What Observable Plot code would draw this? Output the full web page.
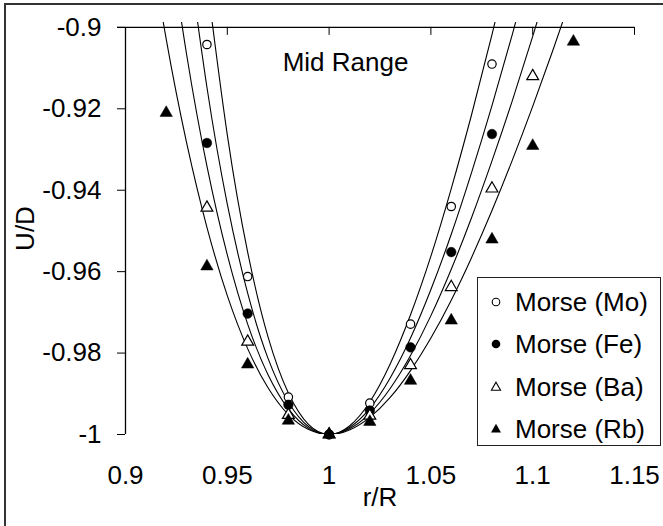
<!DOCTYPE html>
<html>
<head>
<meta charset="utf-8">
<script src="https://cdn.jsdelivr.net/npm/d3@7"></script>
<script src="https://cdn.jsdelivr.net/npm/@observablehq/plot@0.6"></script>
<style>
  html, body { margin: 0; padding: 0; background: #fff; overflow: hidden; }
  #wrap { position: relative; width: 663px; height: 526px; font-family: "Liberation Sans", Arial, sans-serif; }
  #frame { position: absolute; left: 4px; top: 3px; width: 700px; height: 600px; border-left: 2px solid #333; border-top: 2px solid #333; pointer-events: none; }
  #legend { position: absolute; left: 477px; top: 277px; width: 184px; height: 169px; border: 1px solid #222; background: #fff; box-sizing: border-box; }
  .row { position: absolute; left: 0; height: 30px; font-size: 26px; line-height: 30px; color: #000; white-space: nowrap; }
  .row svg { position: absolute; left: 8px; top: 5px; }
  .row span { position: absolute; left: 37px; top: 0; }
</style>
</head>
<body>
<div id="wrap">
  <div id="chart"></div>
  <div id="legend"></div>
  <div id="frame"></div>
</div>
<script>
// ---- axis ticks ----
const xTicks = [0.9, 0.95, 1, 1.05, 1.1, 1.15];
const xTickLabels = ["0.9", "0.95", "1", "1.05", "1.1", "1.15"];
const yTicks = [-1, -0.98, -0.96, -0.94, -0.92, -0.9];
const yTickLabels = ["-1", "-0.98", "-0.96", "-0.94", "-0.92", "-0.9"];

// ---- series names ----
const seriesNames = ["Morse (Mo)", "Morse (Fe)", "Morse (Ba)", "Morse (Rb)"];

// ---- data points (markers) ----
const moX = [0.94, 0.96, 0.98, 1.00, 1.02, 1.04, 1.06, 1.08];
const moY = [-0.9042, -0.9612, -0.9908, -1.0, -0.9923, -0.9729, -0.9440, -0.9090];
const feX = [0.94, 0.96, 0.98, 1.00, 1.02, 1.04, 1.06, 1.08];
const feY = [-0.9284, -0.9703, -0.9927, -1.0, -0.9941, -0.9786, -0.9552, -0.9262];
const baX = [0.94, 0.96, 0.98, 1.00, 1.02, 1.04, 1.06, 1.08, 1.10];
const baY = [-0.9443, -0.9772, -0.9952, -1.0, -0.9954, -0.9830, -0.9638, -0.9396, -0.9120];
const rbX = [0.92, 0.94, 0.96, 0.98, 1.00, 1.02, 1.04, 1.06, 1.08, 1.10, 1.12];
const rbY = [-0.9210, -0.9587, -0.9828, -0.9966, -1.0, -0.9969, -0.9868, -0.9720, -0.9521, -0.9291, -0.9035];

// ---- fitted curves ----
const fitMoX = [0.94, 0.95, 0.96, 0.97, 0.98, 0.99, 1.00, 1.01, 1.02, 1.03, 1.04, 1.05, 1.06, 1.07, 1.08, 1.09];
const fitMoY = [-0.8886, -0.9264, -0.9552, -0.9760, -0.9898, -0.9976, -1.0, -0.9979, -0.9920, -0.9827, -0.9706, -0.9562, -0.9396, -0.9214, -0.9018, -0.8810];
const fitFeX = [0.93, 0.94, 0.95, 0.96, 0.97, 0.98, 0.99, 1.00, 1.01, 1.02, 1.03, 1.04, 1.05, 1.06, 1.07, 1.08, 1.09, 1.10];
const fitFeY = [-0.8786, -0.9147, -0.9434, -0.9653, -0.9813, -0.9920, -0.9981, -1.0, -0.9983, -0.9936, -0.9861, -0.9763, -0.9644, -0.9508, -0.9356, -0.9192, -0.9017, -0.8833];
const fitBaX = [0.92, 0.93, 0.94, 0.95, 0.96, 0.97, 0.98, 0.99, 1.00, 1.01, 1.02, 1.03, 1.04, 1.05, 1.06, 1.07, 1.08, 1.09, 1.10, 1.11];
const fitBaY = [-0.8730, -0.9066, -0.9341, -0.9559, -0.9729, -0.9853, -0.9937, -0.9985, -1.0, -0.9986, -0.9948, -0.9887, -0.9806, -0.9708, -0.9594, -0.9467, -0.9328, -0.9180, -0.9022, -0.8858];
const fitRbX = [0.91, 0.92, 0.93, 0.94, 0.95, 0.96, 0.97, 0.98, 0.99, 1.00, 1.01, 1.02, 1.03, 1.04, 1.05, 1.06, 1.07, 1.08, 1.09, 1.10, 1.11, 1.12];
const fitRbY = [-0.8727, -0.9029, -0.9283, -0.9491, -0.9659, -0.9789, -0.9885, -0.9951, -0.9988, -1.0, -0.9989, -0.9958, -0.9909, -0.9843, -0.9763, -0.9670, -0.9565, -0.9450, -0.9326, -0.9194, -0.9055, -0.8910];

const annotation = "Mid Range";
const xLabel = "r/R";
const yLabel = "U/D";

// ---- build tables ----
const toRows = (xs, ys, s) => xs.map((x, i) => ({x, y: ys[i], s}));
const pts = [
  toRows(moX, moY, seriesNames[0]),
  toRows(feX, feY, seriesNames[1]),
  toRows(baX, baY, seriesNames[2]),
  toRows(rbX, rbY, seriesNames[3])
];
const fits = [
  toRows(fitMoX, fitMoY, seriesNames[0]),
  toRows(fitFeX, fitFeY, seriesNames[1]),
  toRows(fitBaX, fitBaY, seriesNames[2]),
  toRows(fitRbX, fitRbY, seriesNames[3])
];
const styles = [
  {symbol: "circle", fill: "white", stroke: "black", r: 4.2, strokeWidth: 1.2},
  {symbol: "circle", fill: "black", stroke: "black", r: 4.8, strokeWidth: 0.5},
  {symbol: "triangle", fill: "white", stroke: "black", r: 4.4, strokeWidth: 1.2},
  {symbol: "triangle", fill: "black", stroke: "black", r: 4.6, strokeWidth: 0.5}
];

const yTop = yTicks[yTicks.length - 1];
const fmtX = d => xTickLabels[xTicks.indexOf(d)];
const fmtY = d => yTickLabels[yTicks.indexOf(d)];

const chart = Plot.plot({
  width: 663,
  height: 526,
  marginLeft: 125,
  marginRight: 29,
  marginTop: 22,
  marginBottom: 92,
  style: {fontFamily: '"Liberation Sans", Arial, sans-serif', fontSize: "26px", background: "transparent", color: "black", overflow: "visible"},
  x: {domain: [xTicks[0], xTicks[xTicks.length - 1]]},
  y: {domain: [yTicks[0], -0.8988]},
  marks: [
    ...fits.map(f => Plot.line(f, {x: "x", y: "y", curve: "natural", stroke: "black", strokeWidth: 1.1, clip: true})),
    Plot.ruleX([xTicks[0]], {y1: yTicks[0], y2: yTop, stroke: "black", strokeWidth: 1.3}),
    Plot.ruleY([yTop], {x1: xTicks[0], x2: xTicks[xTicks.length - 1], insetLeft: -8, stroke: "black", strokeWidth: 1.3}),
    Plot.ruleX(xTicks.slice(1), {y1: yTop, y2: yTop, insetBottom: -8, stroke: "black", strokeWidth: 1}),
    Plot.axisY(yTicks, {anchor: "left", tickSize: 8, tickPadding: 16, tickFormat: fmtY, fontSize: 26, label: null}),
    Plot.axisX(xTicks, {anchor: "bottom", tickSize: 0, tickPadding: 31, tickFormat: fmtX, fontSize: 26, label: null}),
    ...pts.map((p, i) => Plot.dot(p, {x: "x", y: "y", ...styles[i]})),
    Plot.text([annotation], {frameAnchor: "top-left", dx: 220, dy: 30, textAnchor: "middle", fontSize: 26}),
    Plot.text([xLabel], {frameAnchor: "bottom", dy: 71, textAnchor: "middle", fontSize: 26}),
    Plot.text([yLabel], {frameAnchor: "left", dx: -100, rotate: -90, textAnchor: "middle", lineAnchor: "middle", fontSize: 26})
  ]
});
document.getElementById("chart").appendChild(chart);

// ---- legend ----
const legend = document.getElementById("legend");
const rowTops = [9, 51, 94, 136];
const sym = [
  '<circle cx="10" cy="10" r="3.8" fill="white" stroke="black" stroke-width="1.1"/>',
  '<circle cx="10" cy="10" r="4.3" fill="black"/>',
  '<path d="M10,5.2 L14.6,13.2 L5.4,13.2 Z" fill="white" stroke="black" stroke-width="1.1"/>',
  '<path d="M10,4.8 L15,13.6 L5,13.6 Z" fill="black"/>'
];
seriesNames.forEach((name, i) => {
  const row = document.createElement("div");
  row.className = "row";
  row.style.top = rowTops[i] + "px";
  row.innerHTML = `<svg width="20" height="20">${sym[i]}</svg><span>${name}</span>`;
  legend.appendChild(row);
});
</script>
</body>
</html>
